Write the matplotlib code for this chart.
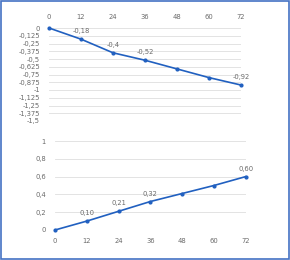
import matplotlib
matplotlib.use("Agg")
import matplotlib.pyplot as plt
from matplotlib.patches import Rectangle
import numpy as np

hours = [0, 12, 24, 36, 48, 60, 72]
top_vals = [0, -0.18, -0.40, -0.52, -0.66, -0.80, -0.92]
top_labels = [None, "-0,18", "-0,4", "-0,52", None, None, "-0,92"]
bot_vals = [0, 0.10, 0.21, 0.32, 0.41, 0.50, 0.60]
bot_labels = [None, "0,10", "0,21", "0,32", None, None, "0,60"]
top_yticks = [0, -0.125, -0.25, -0.375, -0.5, -0.625, -0.75, -0.875, -1,
              -1.125, -1.25, -1.375, -1.5]
bot_yticks = [0, 0.2, 0.4, 0.6, 0.8, 1]

line_color = "#2160c0"
text_color = "#6a6a6a"
grid_color = "#dedede"
fs = 4.9

def fmt(v):
    s = ("%g" % v).replace(".", ",")
    return s

fig = plt.figure(figsize=(2.9, 2.6), dpi=100)
fig.patches.append(Rectangle((0.004, 0.004), 0.992, 0.992, transform=fig.transFigure,
                             fill=False, edgecolor="#4472c4", linewidth=1.2))

ax1 = fig.add_axes([49/290, 1-121/260, (241-49)/290, (121-28)/260])
ax2 = fig.add_axes([55/290, 1-230/260, (245.7-55)/290, (230-141)/260])

for ax in (ax1, ax2):
    for s in ax.spines.values():
        s.set_visible(False)
    ax.tick_params(axis="y", length=0, colors=text_color, labelsize=fs, pad=6.5)
    ax.tick_params(axis="x", length=0, colors=text_color, labelsize=fs, pad=5.5)
    ax.set_xlim(0, 72)
    ax.set_xticks(hours)
    ax.grid(axis="y", color=grid_color, linewidth=0.6)
    ax.set_axisbelow(True)

ax1.plot(hours, top_vals, color=line_color, linewidth=1.2, marker="o", markersize=2.0, clip_on=False)
ax1.set_ylim(-1.5, 0)
ax1.set_yticks(top_yticks)
ax1.set_yticklabels([fmt(v) for v in top_yticks])
ax1.xaxis.tick_top()
ax1.set_xticklabels([str(h) for h in hours])
for x, y, l in zip(hours, top_vals, top_labels):
    if l:
        ax1.annotate(l, (x, y), xytext=(0, 3.5), textcoords="offset points",
                     ha="center", va="bottom", fontsize=fs, color=text_color)

ax2.plot(hours, bot_vals, color=line_color, linewidth=1.2, marker="o", markersize=2.0, clip_on=False)
ax2.set_ylim(0, 1)
ax2.set_yticks(bot_yticks)
ax2.set_yticklabels([fmt(v) for v in bot_yticks])
ax2.set_xticklabels([str(h) for h in hours])
for x, y, l in zip(hours, bot_vals, bot_labels):
    if l:
        ax2.annotate(l, (x, y), xytext=(0, 3.5), textcoords="offset points",
                     ha="center", va="bottom", fontsize=fs, color=text_color)

fig.savefig("out.png", dpi=100)
